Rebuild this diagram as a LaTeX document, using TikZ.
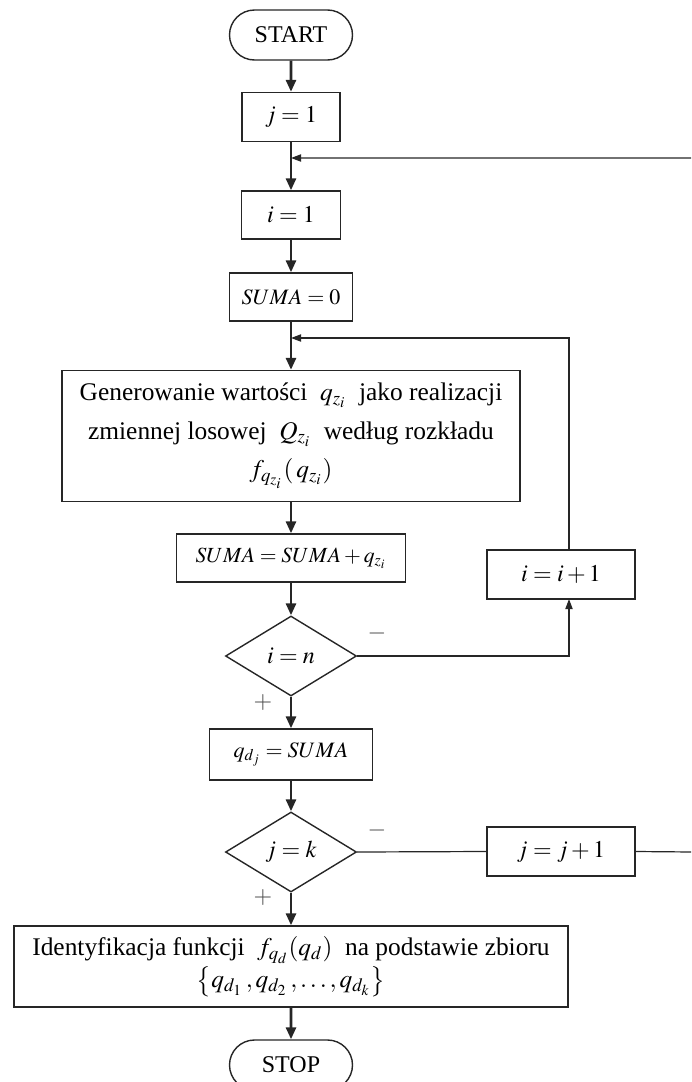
\documentclass[tikz,border=0pt]{standalone}
\usepackage{mathptmx}
\usepackage[no-math]{fontspec}
\setmainfont{Liberation Serif}
\usetikzlibrary{arrows.meta,shapes.geometric,shapes.misc}

\begin{document}
\begin{tikzpicture}[x = 0.5pt, y = -0.5pt,
        box/.style = {draw = black!85, line width = 0.7pt, inner sep = 2pt, font = \fontsize{12}{14}\selectfont},
        term/.style = {box, rounded rectangle, minimum width = 65.5pt, minimum height = 25pt},
        test/.style = {box, diamond, minimum width = 65.5pt, minimum height = 40pt, inner sep = 0pt},
        sign/.style = {text = black!70, font = \fontsize{12}{14}\selectfont},
        flow/.style = {black!85, line width = 1.4pt, -{Triangle[length = 6pt, width = 5pt]}},
        back/.style = {black!85, line width = 0.6pt},
        backarr/.style = {back, -{Triangle[length = 5pt, width = 3.6pt]}}]
                \clip (0,0) rectangle (691,1082);
                \node[term] (start) at (291,35) {START};
                \node[box, minimum width = 49pt, minimum height = 24.5pt] (j1) at (291,117) {$j = 1$};
                \node[box, minimum width = 49.5pt, minimum height = 24pt] (i1) at (291,215) {$i = 1$};
                \node[box, minimum width = 61.5pt, minimum height = 24pt, font = \fontsize{11}{12}\selectfont] (sum0) at (291,297) {$SUMA = 0$};
                \node[box, minimum width = 229pt, minimum height = 65.5pt, align = center, font = \fontsize{12.7}{19.2}\selectfont] (gen) at (291,436)
                    {Generowanie wartości \ $q_{z_i}$ \ jako realizacji\\ zmiennej losowej \ $Q_{z_i}$ \ według rozkładu\\ $f_{q_{z_i}}(\,q_{z_i})$};
                \node[box, minimum width = 114.5pt, minimum height = 24pt, font = \fontsize{10.8}{12}\selectfont] (sadd) at (291,558) {$SUMA = SUMA + q_{z_i}$};
                \node[box, minimum width = 74pt, minimum height = 24.5pt] (iinc) at (561,574.5) {$i = i + 1$};
                \node[test] (tin) at (291,656) {$i = n$};
                \node[box, minimum width = 81.5pt, minimum height = 25.5pt, font = \fontsize{11}{12}\selectfont] (qd) at (291,754.5) {$q_{d_j} = SUMA$};
                \node[test] (tjk) at (291,852) {$j = k$};
                \node[box, minimum width = 74pt, minimum height = 24.5pt] (jinc) at (561,851.5) {$j = j + 1$};
                \node[box, minimum width = 277pt, minimum height = 40.5pt, align = center, font = \fontsize{12.7}{16}\selectfont] (ident) at (291,966.5)
                    {Identyfikacja funkcji \ $f_{q_d}(q_d)$ \ na podstawie zbioru\\ $\bigl\{q_{d_1}\,, q_{d_2}\,, \ldots, q_{d_k}\bigr\}$};
                \node[term] (stop) at (291,1065) {STOP};
                \node[sign] (nin) at (377,633) {$-$};
                \node[sign] (yin) at (263,702) {$+$};
                \node[sign] (njk) at (377,830) {$-$};
                \node[sign] (yjk) at (263,897) {$+$};
                \coordinate (jback) at (291,158);
                \coordinate (iback) at (291,338);
                \coordinate (icol) at (569,599);
                \coordinate (jcol) at (693,852);
                \draw[flow] (start) -- (j1);
                \draw[flow] (j1) -- (i1);
                \draw[flow] (i1) -- (sum0);
                \draw[flow] (sum0) -- (gen);
                \draw[flow] (gen) -- (sadd);
                \draw[flow] (sadd) -- (tin);
                \draw[flow] (tin) -- (qd);
                \draw[flow] (qd) -- (tjk);
                \draw[flow] (tjk) -- (ident);
                \draw[flow] (ident) -- (stop);
                \draw[backarr] (tin.east) -| (icol);
                \draw[backarr] (icol |- iinc.north) |- (iback);
                \draw[back] (tjk.east) -- (jinc.west);
                \draw[backarr] (jinc.east) -- (jcol) |- (jback);

            \end{tikzpicture}
\end{document}
